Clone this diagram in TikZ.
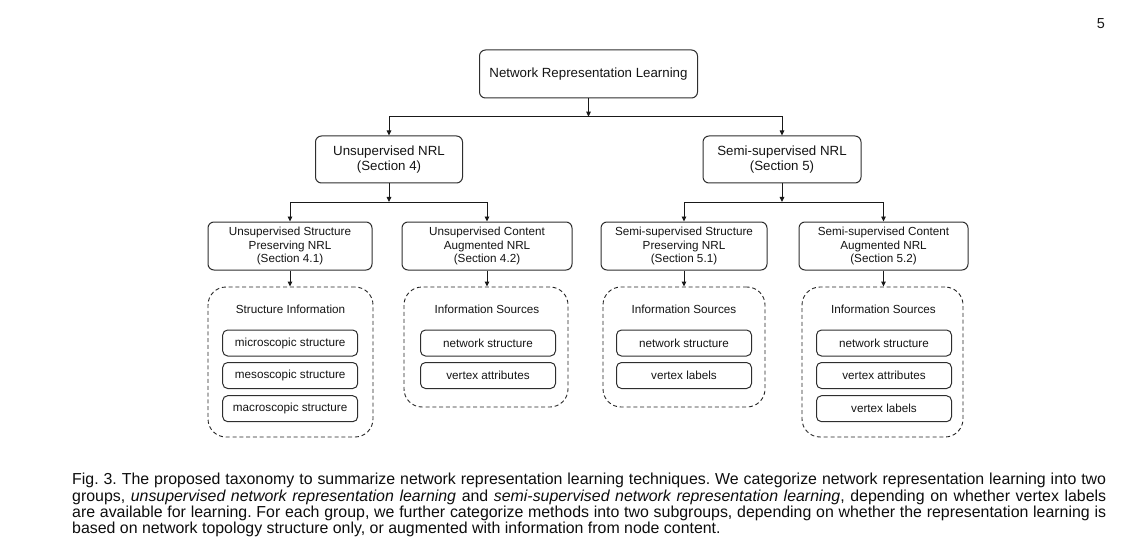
\documentclass[tikz,border=0pt]{standalone}
\usepackage{fontspec}
\setmainfont{Liberation Sans}
\usetikzlibrary{arrows.meta}
\frenchspacing
\begin{document}
\begin{tikzpicture}[x=1pt,y=-1pt,
  box/.style={draw=black!82, line width=1pt, rounded corners=6pt, inner sep=0pt, align=center, text=black!92},
  big/.style={box, font=\fontsize{13.3}{15}\selectfont},
  mid/.style={box, font=\fontsize{11.7}{13.8}\selectfont},
  leaf/.style={box, rounded corners=5pt, minimum width=135pt, minimum height=26pt, font=\fontsize{11.7}{13.8}\selectfont},
  group/.style={draw=black!85, line width=0.9pt, dash pattern=on 4pt off 2.8pt, rounded corners=18pt, inner sep=0pt},
  ttl/.style={font=\fontsize{11.7}{13.8}\selectfont, text=black!92, inner sep=0pt},
  arr/.style={draw=black!90, line width=0.9pt, -{Triangle[length=5pt,width=4.5pt]}},
  captxt/.style={font=\fontsize{15.9}{16.3}\selectfont, text=black!95, inner sep=0pt, anchor=base west},
]
\useasboundingbox (0,0) rectangle (1129,548);

% page number
\node[font=\fontsize{14.5}{15}\selectfont, text=black!90, inner sep=0pt] (pg) at (1101,23.7) {5};

% level 1
\node[big, minimum width=218pt, minimum height=48pt] (nrl) at (588.5,74) {Network Representation Learning};

% level 2
\node[big, minimum width=147pt, minimum height=47pt] (uns) at (389,159.5) {Unsupervised NRL\\(Section 4)};
\node[big, minimum width=158pt, minimum height=47pt] (semi) at (782,159.5) {Semi-supervised NRL\\(Section 5)};

% level 3
\node[mid, minimum width=164pt, minimum height=48pt] (usp) at (290,246) {Unsupervised Structure\\Preserving NRL\\(Section 4.1)};
\node[mid, minimum width=170pt, minimum height=48pt] (uca) at (487,246) {Unsupervised Content\\Augmented NRL\\(Section 4.2)};
\node[mid, minimum width=166pt, minimum height=48pt] (ssp) at (684,246) {Semi-supervised Structure\\Preserving NRL\\(Section 5.1)};
\node[mid, minimum width=169pt, minimum height=48pt] (sca) at (883.5,246) {Semi-supervised Content\\Augmented NRL\\(Section 5.2)};

% groups
\node[group, minimum width=165pt, minimum height=150pt] (g1) at (290.5,362) {};
\node[group, minimum width=164pt, minimum height=120pt] (g2) at (486,347) {};
\node[group, minimum width=162pt, minimum height=120pt] (g3) at (684,347) {};
\node[group, minimum width=161pt, minimum height=150pt] (g4) at (882.5,362) {};

\node[ttl] (t1) at (290.5,309.3) {Structure Information};
\node[ttl] (t2) at (487,309.3) {Information Sources};
\node[ttl] (t3) at (684,309.3) {Information Sources};
\node[ttl] (t4) at (883.5,309.3) {Information Sources};

\node[leaf] (l11) at (290.2,343) {microscopic structure};
\node[leaf] (l12) at (290.2,375.5) {mesoscopic structure};
\node[leaf] (l13) at (290.2,408.7) {macroscopic structure};

\node[leaf] (l21) at (488,343) {network structure};
\node[leaf] (l22) at (488,375.5) {vertex attributes};

\node[leaf] (l31) at (684,343) {network structure};
\node[leaf] (l32) at (684,375.5) {vertex labels};

\node[leaf] (l41) at (884,343) {network structure};
\node[leaf] (l42) at (884,375.5) {vertex attributes};
\node[leaf] (l43) at (884,408.7) {vertex labels};

% connectors
\coordinate (j0) at (588.5,116.7);
\draw[arr] (nrl.south) -- (j0);
\draw[arr] (j0) -| (uns.north);
\draw[arr] (j0) -| (semi.north);

\coordinate (j1) at (389,202);
\draw[arr] (uns.south) -- (j1);
\draw[arr] (j1) -| (usp.north);
\draw[arr] (j1) -| (uca.north);

\coordinate (j2) at (782,202);
\draw[arr] (semi.south) -- (j2);
\draw[arr] (j2) -| (ssp.north);
\draw[arr] (j2) -| (sca.north);

\draw[arr] (usp.south) -- (usp.south |- g1.north);
\draw[arr] (uca.south) -- (uca.south |- g2.north);
\draw[arr] (ssp.south) -- (ssp.south |- g3.north);
\draw[arr] (sca.south) -- (sca.south |- g4.north);

% caption
\node[captxt] (c1) at (72,484.7) {\makebox[1034pt][s]{Fig. 3. The proposed taxonomy to summarize network representation learning techniques. We categorize network representation learning into two}};
\node[captxt] (c2) at (72,501) {\makebox[1034pt][s]{groups, \textit{unsupervised network representation learning} and \textit{semi-supervised network representation learning}, depending on whether vertex labels}};
\node[captxt] (c3) at (72,517.3) {\makebox[1034pt][s]{are available for learning. For each group, we further categorize methods into two subgroups, depending on whether the representation learning is}};
\node[captxt] (c4) at (72,533.6) {based on network topology structure only, or augmented with information from node content.};
\end{tikzpicture}
\end{document}
